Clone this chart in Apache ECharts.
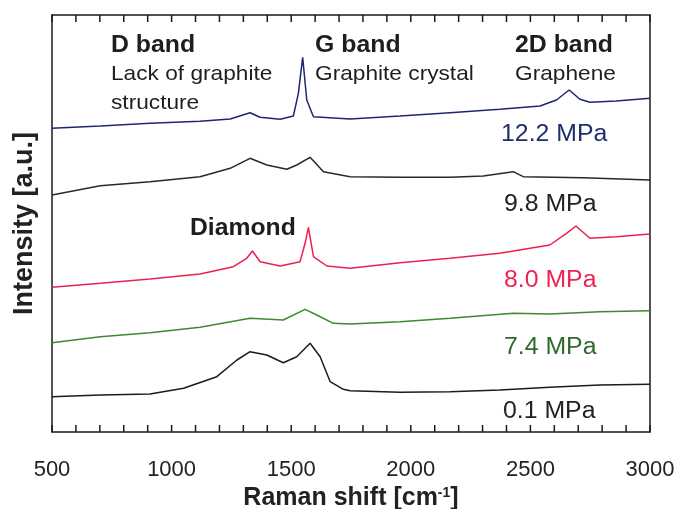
<!DOCTYPE html>
<html>
<head>
<meta charset="utf-8">
<script src="https://cdn.jsdelivr.net/npm/echarts@6/dist/echarts.min.js"></script>
<style>
html,body{margin:0;padding:0;background:#fff;}
#chart{width:678px;height:509px;}
</style>
</head>
<body>
<div id="chart"></div>
<script>
// Raman shift (cm^-1) sample positions and intensities (a.u., stacked offsets) per pressure
const xTicks = [500, 1000, 1500, 2000, 2500, 3000];
const xTickMarks = [500, 600, 700, 800, 900, 1000, 1100, 1200, 1300, 1400, 1500, 1600, 1700, 1800, 1900, 2000, 2100, 2200, 2300, 2400, 2500, 2600, 2700, 2800, 2900, 3000];

const w122 = [500, 702, 910, 1119, 1245, 1328, 1370, 1454, 1509, 1530, 1548, 1565, 1593, 1746, 1955, 2164, 2372, 2540, 2609, 2662, 2707, 2749, 2859, 3000];
const v122 = [303.7, 306, 308.7, 310.7, 313, 319.3, 314.7, 312.7, 316, 338.7, 374.7, 332, 315.3, 313, 316, 319.3, 322.7, 326, 332, 342, 332.7, 329.7, 331, 333.7];

const w98 = [500, 702, 910, 1119, 1245, 1328, 1398, 1482, 1523, 1579, 1635, 1746, 1955, 2164, 2303, 2428, 2470, 2720, 3000];
const v98 = [237, 246.3, 250.3, 255.3, 263.7, 273.7, 267, 262.7, 267, 274.7, 260.3, 255.3, 254.7, 254.7, 256, 260.3, 255.3, 254.3, 252];

const w80 = [500, 702, 910, 1119, 1258, 1314, 1338, 1370, 1454, 1537, 1558, 1572, 1593, 1649, 1746, 1955, 2164, 2372, 2581, 2651, 2690, 2749, 2859, 3000];
const v80 = [144.7, 148.7, 153, 158, 165.3, 173.7, 181, 170.3, 166, 170.3, 188.7, 204.7, 175.3, 166, 163.7, 169.3, 173.7, 178.7, 187, 198.7, 206, 193.7, 195.3, 198];

const w74 = [500, 702, 910, 1119, 1328, 1467, 1558, 1607, 1676, 1746, 1955, 2164, 2428, 2581, 2790, 3000];
const v74 = [89.3, 95.3, 99.3, 104.7, 113.7, 112, 122.7, 117, 108.7, 108, 110.3, 113.7, 118.7, 118, 120.3, 121.3];

const w01 = [500, 702, 910, 1050, 1189, 1273, 1328, 1398, 1467, 1523, 1579, 1621, 1663, 1718, 1746, 1955, 2164, 2372, 2581, 2790, 3000];
const v01 = [35.3, 37, 38, 43.7, 55.3, 72, 80.3, 77, 69.3, 75.3, 88.7, 75.3, 50.3, 42.7, 41.3, 39.7, 40.3, 42, 44.7, 47, 47.7];

const seriesNames = ['12.2 MPa', '9.8 MPa', '8.0 MPa', '7.4 MPa', '0.1 MPa'];

function zip(a, b) { return a.map((x, i) => [x, b[i]]); }

const FONT = '"Liberation Sans", Arial, Helvetica, sans-serif';
const AXIS_COLOR = '#1a1a1a';
const lineColors = ['#1e2672', '#262b24', '#ee1f4f', '#3e8a30', '#1c1c1c'];
const labelColors = ['#1f2d6b', '#222222', '#ef2352', '#2f6a2c', '#222222'];
const datasets = [zip(w122, v122), zip(w98, v98), zip(w80, v80), zip(w74, v74), zip(w01, v01)];

const chart = echarts.init(document.getElementById('chart'), null, { renderer: 'canvas' });

function txt(text, x, y, size, bold, color, sx) {
  return {
    type: 'text',
    x: x, y: y,
    scaleX: sx || 1.08,
    style: {
      text: text,
      fill: color,
      font: (bold ? 'bold ' : '') + size + 'px ' + FONT,
      verticalAlign: 'middle',
      align: 'left'
    },
    z: 100
  };
}

function xAxisDef(pos, extra) {
  return Object.assign({
    type: 'value',
    position: pos,
    min: 500, max: 3000, interval: 500,
    axisLine: { show: true, onZero: false, lineStyle: { color: AXIS_COLOR, width: 1.5 } },
    axisTick: { show: false },
    minorTick: { show: false },
    splitLine: { show: false },
    minorSplitLine: { show: false }
  }, extra);
}

// inward tick marks on bottom and top frame edges, positioned by the x axis scale
function renderTick(params, api) {
  const cs = params.coordSys;
  const x = api.coord([api.value(0), 0])[0];
  const yb = cs.y + cs.height;
  const yt = cs.y;
  const st = { stroke: AXIS_COLOR, lineWidth: 1.5 };
  return {
    type: 'group',
    children: [
      { type: 'line', shape: { x1: x, y1: yb, x2: x, y2: yb - 7 }, style: st },
      { type: 'line', shape: { x1: x, y1: yt, x2: x, y2: yt + 7 }, style: st }
    ]
  };
}

chart.setOption({
  animation: false,
  backgroundColor: '#ffffff',
  grid: {
    left: 52, right: 28, top: 15, bottom: 77, containLabel: false,
    outerBounds: { left: -200, right: -200, top: -200, bottom: -200 }
  },
  xAxis: [
    xAxisDef('bottom', {
      name: 'Raman shift [cm{sup|-1}]',
      nameLocation: 'middle',
      nameGap: 49,
      nameTextStyle: {
        fontFamily: FONT, fontSize: 25, fontWeight: 'bold', color: '#222',
        rich: { sup: { fontFamily: FONT, fontSize: 14, fontWeight: 'bold', color: '#222', verticalAlign: 'top', padding: [0, 0, 10, 0] } }
      },
      axisLabel: {
        show: true, margin: 27, fontFamily: FONT, fontSize: 22, color: '#222',
        formatter: v => xTicks.includes(v) ? String(v) : ''
      }
    }),
    xAxisDef('top', { axisLabel: { show: false } })
  ],
  yAxis: [
    {
      type: 'value', min: 0, max: 417,
      position: 'left',
      name: 'Intensity [a.u.]',
      nameLocation: 'middle',
      nameGap: 14,
      nameTextStyle: { fontFamily: FONT, fontSize: 27, fontWeight: 'bold', color: '#222' },
      axisLine: { show: true, onZero: false, lineStyle: { color: AXIS_COLOR, width: 1.5 } },
      axisTick: { show: false },
      axisLabel: { show: false },
      splitLine: { show: false }
    },
    {
      type: 'value', min: 0, max: 417,
      position: 'right',
      axisLine: { show: true, onZero: false, lineStyle: { color: AXIS_COLOR, width: 1.5 } },
      axisTick: { show: false },
      axisLabel: { show: false },
      splitLine: { show: false }
    }
  ],
  series: datasets.map((d, i) => ({
    name: seriesNames[i],
    type: 'line',
    xAxisIndex: 0, yAxisIndex: 0,
    data: d,
    showSymbol: false,
    symbol: 'none',
    smooth: false,
    lineStyle: { color: lineColors[i], width: 1.5 },
    z: 10
  })).concat([{
    type: 'custom',
    name: 'ticks',
    xAxisIndex: 0, yAxisIndex: 0,
    data: xTickMarks.map(v => [v]),
    encode: { x: 0 },
    renderItem: renderTick,
    clip: false,
    silent: true,
    z: 20
  }]),
  graphic: [
    txt('D band', 111, 46, 23, true, '#1e1e1e'),
    txt('Lack of graphite', 111, 74, 21, false, '#1e1e1e'),
    txt('structure', 111, 103, 21, false, '#1e1e1e'),
    txt('G band', 315, 46, 23, true, '#1e1e1e'),
    txt('Graphite crystal', 315, 74, 21, false, '#1e1e1e'),
    txt('2D band', 515, 46, 23, true, '#1e1e1e'),
    txt('Graphene', 515, 74, 21, false, '#1e1e1e'),
    txt('Diamond', 190, 228, 24, true, '#1e1e1e', 1.03),
    txt(seriesNames[0], 501, 135, 23, false, labelColors[0]),
    txt(seriesNames[1], 504, 205, 23, false, labelColors[1]),
    txt(seriesNames[2], 504, 281, 23, false, labelColors[2]),
    txt(seriesNames[3], 504, 348, 23, false, labelColors[3]),
    txt(seriesNames[4], 503, 412, 23, false, labelColors[4])
  ]
});
</script>
</body>
</html>
